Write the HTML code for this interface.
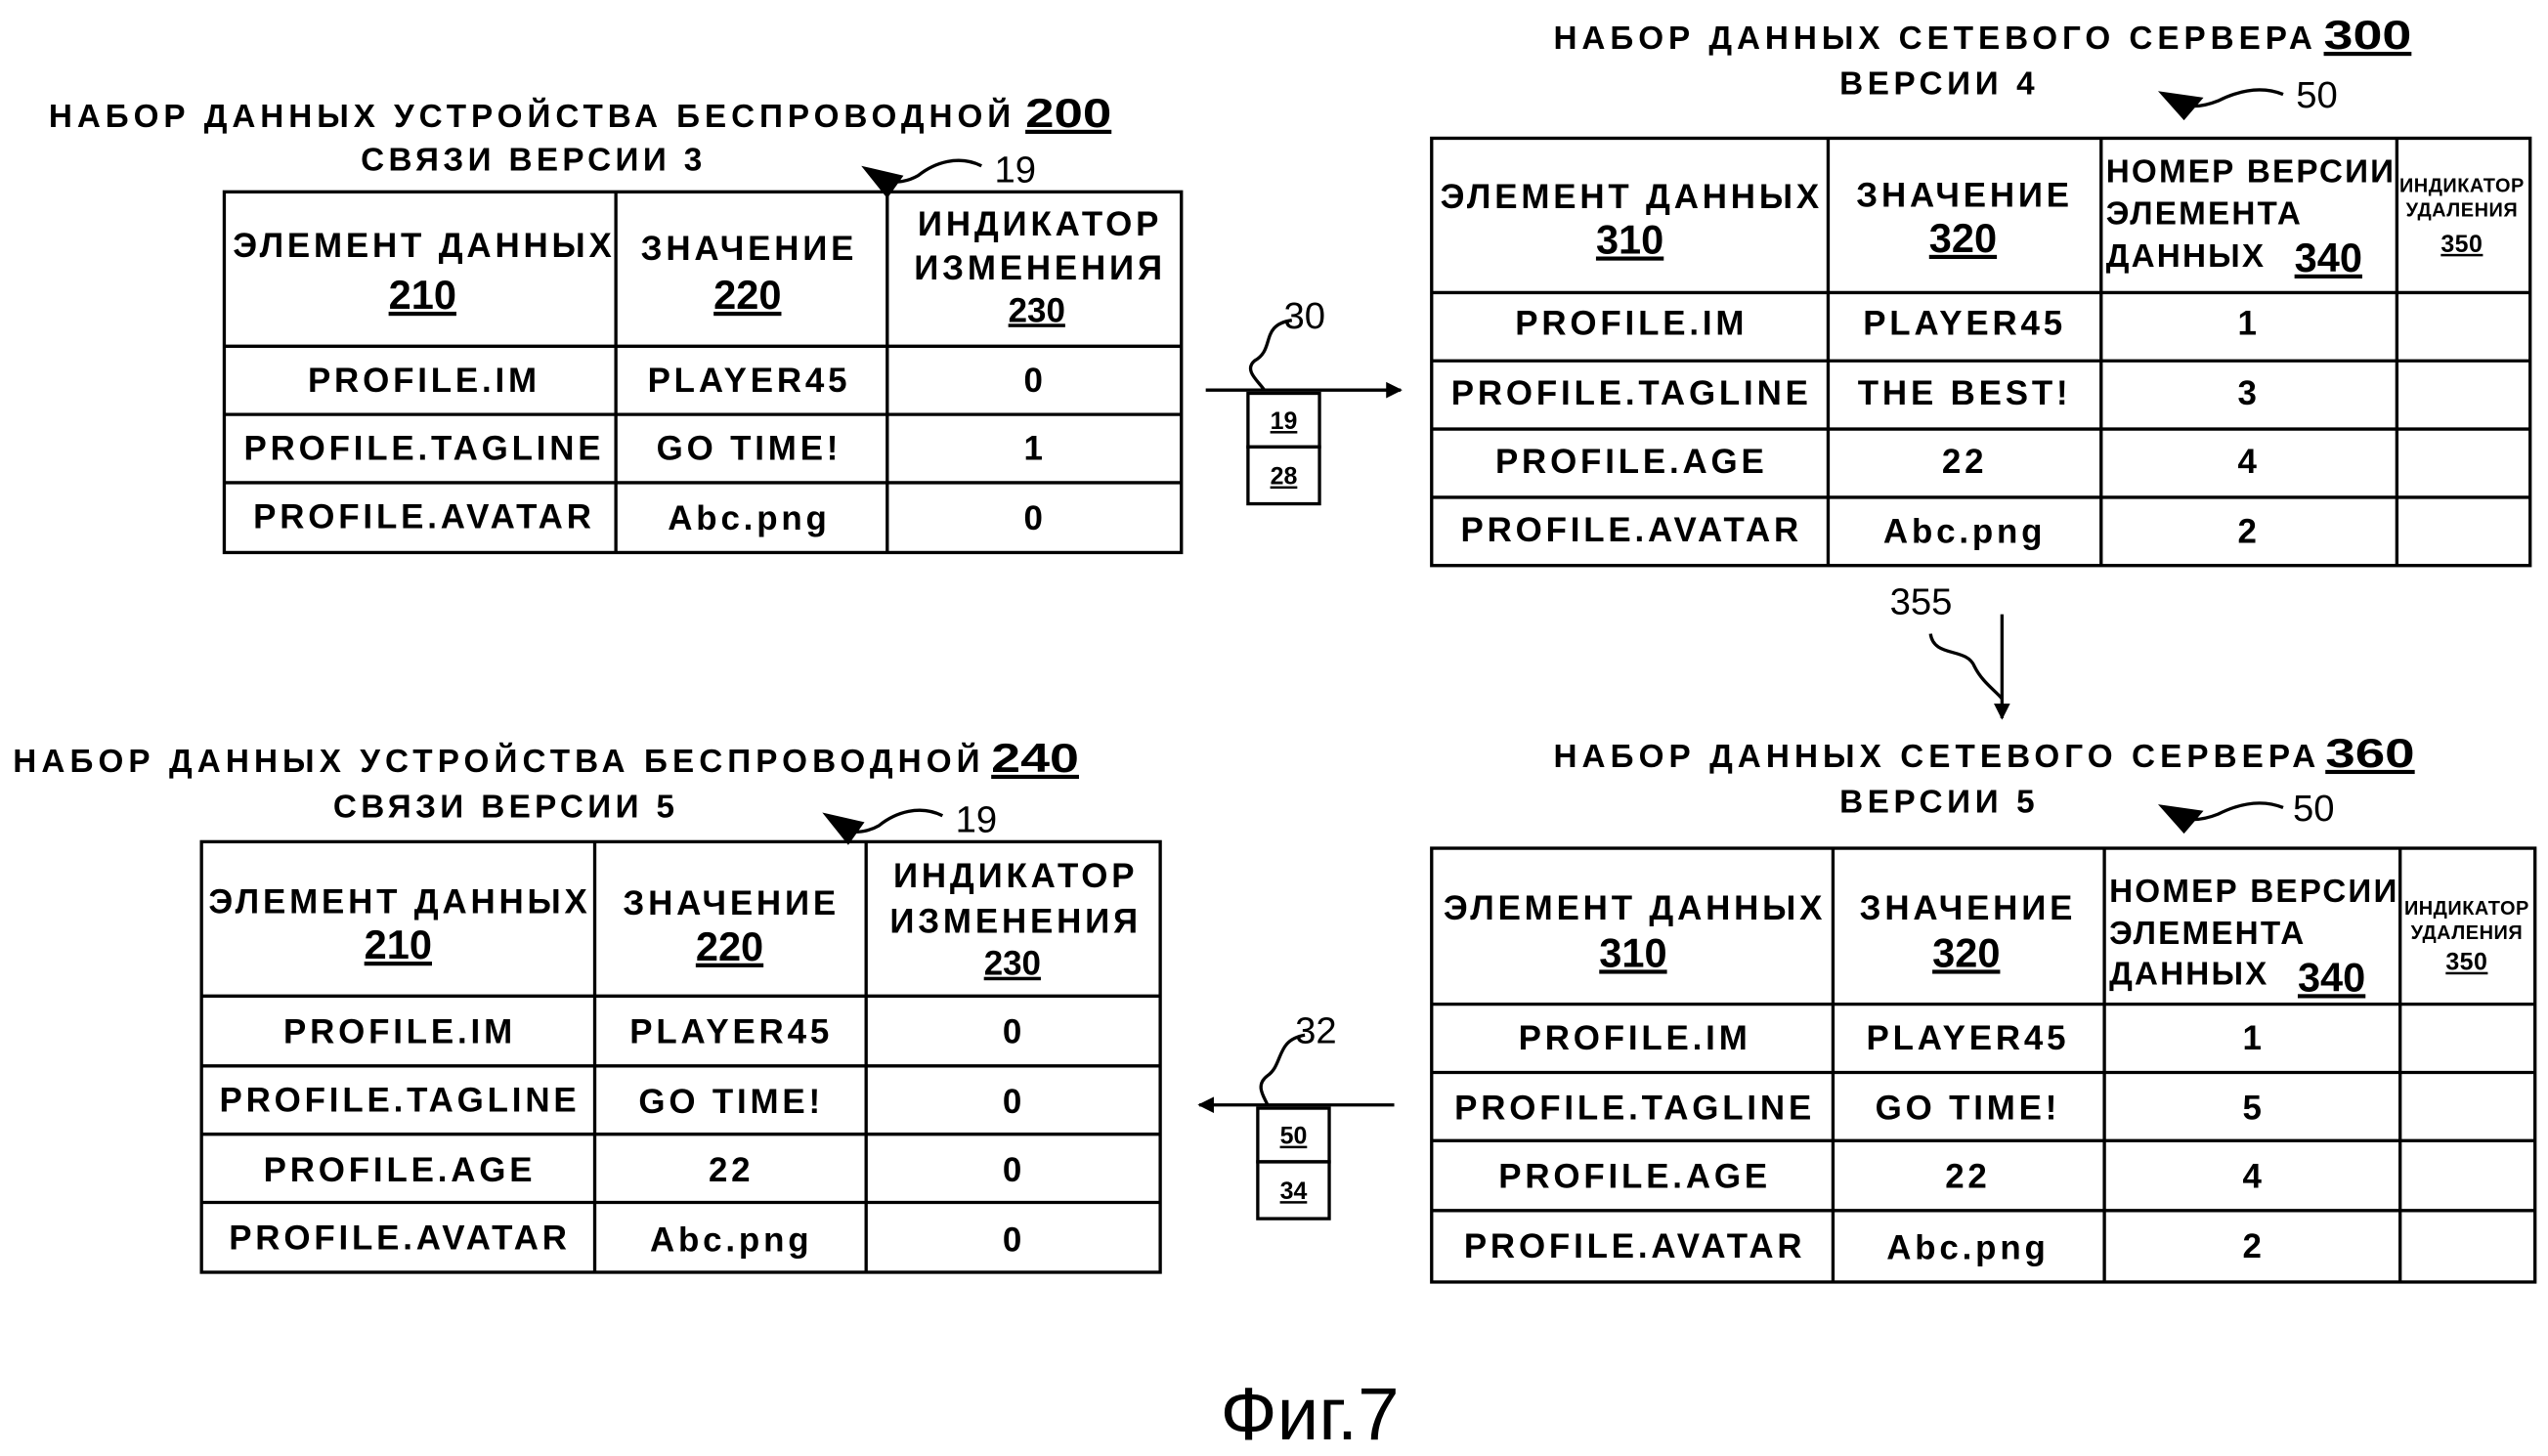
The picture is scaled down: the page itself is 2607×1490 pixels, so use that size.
<!DOCTYPE html>
<html><head><meta charset="utf-8"><style>
html,body{margin:0;padding:0;background:#fff;}
svg{display:block}
text{font-family:"Liberation Sans","DejaVu Sans",sans-serif;font-weight:bold;fill:#000}
.t{font-size:20px}
.h{font-size:21px;letter-spacing:2.3px}
.n{font-size:25px;text-decoration:underline;letter-spacing:0}
.m{font-size:20px;letter-spacing:1.3px}
.s{font-size:12px;letter-spacing:0.3px}
.l{font-size:23px;font-weight:normal}
</style></head><body>
<svg width="2607" height="1490" viewBox="0 0 1568 896" xmlns="http://www.w3.org/2000/svg">
<defs><marker id="a" markerWidth="10" markerHeight="10" refX="9" refY="5" orient="auto" markerUnits="userSpaceOnUse"><path d="M0,0 L10,5 L0,10 Z" fill="#000"/></marker></defs>
<g stroke="#000" stroke-width="2" fill="none">
<rect x="138" y="118" width="589" height="222"/>
<path d="M379,118V340M546,118V340M138,213H727M138,255H727M138,297H727"/>
<rect x="881" y="85" width="676" height="263"/>
<path d="M1125,85V348M1293,85V348M1475,85V348M881,180H1557M881,222H1557M881,264H1557M881,306H1557"/>
<rect x="881" y="522" width="679" height="267"/>
<path d="M1128,522V789M1295,522V789M1477,522V789M881,618H1560M881,660H1560M881,702H1560M881,745H1560"/>
<rect x="124" y="518" width="590" height="265"/>
<path d="M366,518V783M533,518V783M124,613H714M124,656H714M124,698H714M124,740H714"/>
<path d="M742,240H862" marker-end="url(#a)"/>
<rect x="768" y="242" width="44" height="33"/><rect x="768" y="275" width="44" height="35"/>
<path d="M795,197 C775,200 785,215 772,222 C765,228 775,235 778,240"/>
<path d="M1232,378V442" marker-end="url(#a)"/>
<path d="M1188,390 C1190,405 1210,398 1215,410 C1220,420 1228,425 1232,430"/>
<path d="M858,680H738" marker-end="url(#a)"/>
<rect x="774" y="682" width="44" height="33"/><rect x="774" y="715" width="44" height="35"/>
<path d="M803,637 C785,640 790,655 780,662 C772,668 778,675 780,680"/>
<path d="M604,102 C590,95 575,100 565,108 C558,112 552,112 548,112"/>
<path d="M580,502 C566,495 551,500 541,508 C534,512 528,512 524,512"/>
<path d="M1405,58 C1390,52 1375,57 1365,62 C1355,66 1348,66 1342,64"/>
<path d="M1405,497 C1390,491 1375,496 1365,501 C1355,505 1348,505 1342,503"/>
</g>
<g fill="#000">
<path d="M530,102 L556,108 L546,122 Z"/>
<path d="M506,500 L532,506 L522,520 Z"/>
<path d="M1328,56 L1356,60 L1344,74 Z"/>
<path d="M1328,495 L1356,499 L1344,513 Z"/>
</g>
<text class="t" x="30" y="78" textLength="592" lengthAdjust="spacing">НАБОР ДАННЫХ УСТРОЙСТВА БЕСПРОВОДНОЙ</text>
<text class="n" x="631" y="78" textLength="53" lengthAdjust="spacingAndGlyphs">200</text>
<text class="t" x="222" y="105" textLength="210" lengthAdjust="spacing">СВЯЗИ ВЕРСИИ 3</text>
<text class="l" x="612" y="112">19</text>
<text class="t" x="956" y="30" textLength="467" lengthAdjust="spacing">НАБОР ДАННЫХ СЕТЕВОГО СЕРВЕРА</text>
<text class="n" x="1430" y="30" textLength="54" lengthAdjust="spacingAndGlyphs">300</text>
<text class="t" x="1132" y="58" textLength="120" lengthAdjust="spacing">ВЕРСИИ 4</text>
<text class="l" x="1413" y="66">50</text>
<text class="l" x="790" y="202">30</text>
<text class="l" x="1163" y="378">355</text>
<text class="t" x="956" y="472" textLength="469" lengthAdjust="spacing">НАБОР ДАННЫХ СЕТЕВОГО СЕРВЕРА</text>
<text class="n" x="1431" y="472" textLength="55" lengthAdjust="spacingAndGlyphs">360</text>
<text class="t" x="1132" y="500" textLength="120" lengthAdjust="spacing">ВЕРСИИ 5</text>
<text class="l" x="1411" y="505">50</text>
<text class="t" x="8" y="475" textLength="595" lengthAdjust="spacing">НАБОР ДАННЫХ УСТРОЙСТВА БЕСПРОВОДНОЙ</text>
<text class="n" x="610" y="475" textLength="54" lengthAdjust="spacingAndGlyphs">240</text>
<text class="t" x="205" y="503" textLength="210" lengthAdjust="spacing">СВЯЗИ ВЕРСИИ 5</text>
<text class="l" x="588" y="512">19</text>
<text class="l" x="797" y="642">32</text>
<text x="806" y="886" style="font-size:46px;font-weight:normal" text-anchor="middle">Фиг.7</text>
<g style="font-size:15px;font-weight:normal;text-decoration:underline" text-anchor="middle">
<text x="790" y="264">19</text><text x="790" y="298">28</text>
<text x="796" y="704">50</text><text x="796" y="738">34</text>
</g>
<g class="h" text-anchor="middle">
<text x="261" y="158">ЭЛЕМЕНТ ДАННЫХ</text><text class="n" x="260" y="190">210</text>
<text x="461" y="160">ЗНАЧЕНИЕ</text><text class="n" x="460" y="190">220</text>
<text x="640" y="145">ИНДИКАТОР</text><text x="640" y="172">ИЗМЕНЕНИЯ</text><text x="638" y="198" style="text-decoration:underline;letter-spacing:0">230</text>
<text x="261" y="241">PROFILE.IM</text><text x="461" y="241">PLAYER45</text><text x="637" y="241">0</text>
<text x="261" y="283">PROFILE.TAGLINE</text><text x="461" y="283">GO TIME!</text><text x="637" y="283">1</text>
<text x="261" y="325">PROFILE.AVATAR</text><text x="461" y="326">Abc.png</text><text x="637" y="326">0</text>
</g>
<g class="h" text-anchor="middle">
<text x="1004" y="128">ЭЛЕМЕНТ ДАННЫХ</text><text class="n" x="1003" y="156">310</text>
<text x="1209" y="127">ЗНАЧЕНИЕ</text><text class="n" x="1208" y="155">320</text>
<text x="1004" y="206">PROFILE.IM</text><text x="1209" y="206">PLAYER45</text><text x="1384" y="206">1</text>
<text x="1004" y="249">PROFILE.TAGLINE</text><text x="1209" y="249">THE BEST!</text><text x="1384" y="249">3</text>
<text x="1004" y="291">PROFILE.AGE</text><text x="1209" y="291">22</text><text x="1384" y="291">4</text>
<text x="1004" y="333">PROFILE.AVATAR</text><text x="1209" y="334">Abc.png</text><text x="1384" y="334">2</text>
</g>
<g class="m"><text x="1296" y="112">НОМЕР ВЕРСИИ</text><text x="1296" y="138">ЭЛЕМЕНТА</text><text x="1296" y="164">ДАННЫХ</text><text class="n" x="1412" y="167">340</text></g>
<g class="s" text-anchor="middle"><text x="1515" y="118">ИНДИКАТОР</text><text x="1515" y="133">УДАЛЕНИЯ</text><text x="1515" y="155" style="font-size:15px;text-decoration:underline">350</text></g>
<g class="h" text-anchor="middle">
<text x="1006" y="566">ЭЛЕМЕНТ ДАННЫХ</text><text class="n" x="1005" y="595">310</text>
<text x="1211" y="566">ЗНАЧЕНИЕ</text><text class="n" x="1210" y="595">320</text>
<text x="1006" y="646">PROFILE.IM</text><text x="1211" y="646">PLAYER45</text><text x="1387" y="646">1</text>
<text x="1006" y="689">PROFILE.TAGLINE</text><text x="1211" y="689">GO TIME!</text><text x="1387" y="689">5</text>
<text x="1006" y="731">PROFILE.AGE</text><text x="1211" y="731">22</text><text x="1387" y="731">4</text>
<text x="1006" y="774">PROFILE.AVATAR</text><text x="1211" y="775">Abc.png</text><text x="1387" y="774">2</text>
</g>
<g class="m"><text x="1298" y="555">НОМЕР ВЕРСИИ</text><text x="1298" y="581">ЭЛЕМЕНТА</text><text x="1298" y="606">ДАННЫХ</text><text class="n" x="1414" y="610">340</text></g>
<g class="s" text-anchor="middle"><text x="1518" y="563">ИНДИКАТОР</text><text x="1518" y="578">УДАЛЕНИЯ</text><text x="1518" y="597" style="font-size:15px;text-decoration:underline">350</text></g>
<g class="h" text-anchor="middle">
<text x="246" y="562">ЭЛЕМЕНТ ДАННЫХ</text><text class="n" x="245" y="590">210</text>
<text x="450" y="563">ЗНАЧЕНИЕ</text><text class="n" x="449" y="591">220</text>
<text x="625" y="546">ИНДИКАТОР</text><text x="625" y="574">ИЗМЕНЕНИЯ</text><text x="623" y="600" style="text-decoration:underline;letter-spacing:0">230</text>
<text x="246" y="642">PROFILE.IM</text><text x="450" y="642">PLAYER45</text><text x="624" y="642">0</text>
<text x="246" y="684">PROFILE.TAGLINE</text><text x="450" y="685">GO TIME!</text><text x="624" y="685">0</text>
<text x="246" y="727">PROFILE.AGE</text><text x="450" y="727">22</text><text x="624" y="727">0</text>
<text x="246" y="769">PROFILE.AVATAR</text><text x="450" y="770">Abc.png</text><text x="624" y="770">0</text>
</g>
</svg>
</body></html>
